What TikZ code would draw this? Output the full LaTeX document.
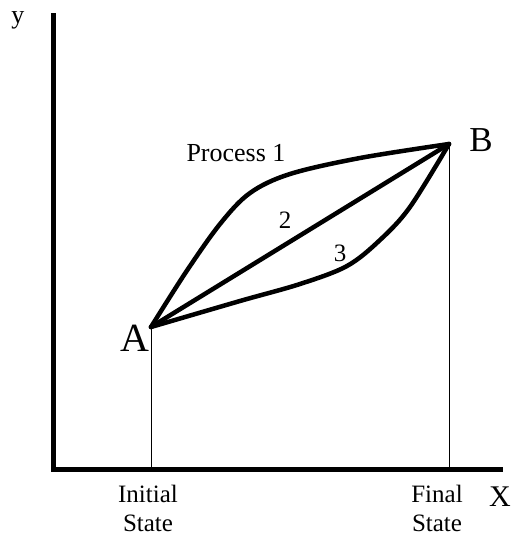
\documentclass[tikz,border=0pt]{standalone}
\usepackage{fontspec}
\setmainfont{Liberation Serif}
\begin{document}
\begin{tikzpicture}[x=1pt,y=-1pt,
  axis/.style={line width=5pt},
  proc/.style={line width=4.5pt,line cap=round,line join=round},
  thin/.style={line width=1pt},
  lbl/.style={inner sep=0pt}]
\useasboundingbox (0,0) rectangle (517,538);
\coordinate (Ytop) at (53.5,13);
\coordinate (O) at (53.5,469);
\coordinate (Xend) at (503,469);
\coordinate (A) at (151,327);
\coordinate (B) at (449,144);
\draw[thin] (A) -- (A |- O);
\draw[thin] (B) -- (B |- O);
\draw[axis] (Ytop) -- (O) -- (Xend);
\draw[proc] plot[smooth,tension=0.55] coordinates {(A) (186,272) (220,224) (250,193) (290,174) (360,158) (B)};
\draw[proc] (A) -- (B);
\draw[proc] plot[smooth,tension=0.55] coordinates {(A) (240,301) (300,284) (347,266) (380,240) (410,207) (B)};
\node[lbl,font=\fontsize{26}{28}\selectfont] (ylab) at (18,20) {y};
\node[lbl,font=\fontsize{30}{32}\selectfont] (xlab) at (500,497) {X};
\node[lbl,font=\fontsize{40}{42}\selectfont] (Alab) at (135,338) {A};
\node[lbl,font=\fontsize{35}{38}\selectfont] (Blab) at (481,140) {B};
\node[lbl,font=\fontsize{26}{28}\selectfont] (p1) at (236,153) {Process 1};
\node[lbl,font=\fontsize{25}{26}\selectfont] (p2) at (285,220) {2};
\node[lbl,font=\fontsize{25}{26}\selectfont] (p3) at (340,253) {3};
\node[lbl,font=\fontsize{25}{29}\selectfont,align=center] (init) at (148,508) {Initial\\State};
\node[lbl,font=\fontsize{25}{29}\selectfont,align=center] (fin) at (437,508) {Final\\State};
\end{tikzpicture}
\end{document}
